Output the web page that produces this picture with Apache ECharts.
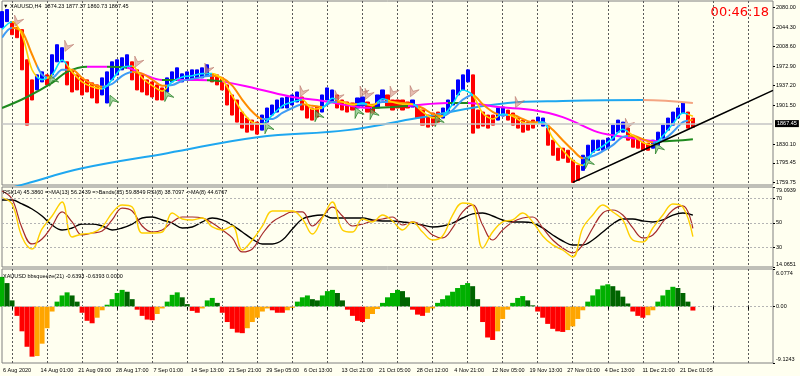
<!DOCTYPE html>
<html>
<head>
<meta charset="utf-8">
<title>XAUUSD,H4</title>
<script src="https://cdn.jsdelivr.net/npm/echarts@6/dist/echarts.min.js"></script>
<style>
html,body{margin:0;padding:0;background:#fffff0;}
#main{width:800px;height:376px;}
</style>
</head>
<body>
<div id="main"></div>
<script>
// 时间轴标签
const timeLabels = ['6 Aug 2020','14 Aug 01:00','21 Aug 09:00','28 Aug 17:00','7 Sep 01:00','14 Sep 13:00','21 Sep 21:00','29 Sep 05:00','6 Oct 13:00','13 Oct 21:00','21 Oct 05:00','28 Oct 12:00','4 Nov 21:00','12 Nov 05:00','19 Nov 13:00','27 Nov 01:00','4 Dec 13:00','11 Dec 21:00','21 Dec 01:05']

// 价格 高/低/方向 (1 = 上涨蓝色, -1 = 下跌红色)
const hi = [2072.6,2076.3,2054.2,2043.2,2039.5,1984.3,1947.5,1956.7,1962.2,1956.7,
1993.5,2011.9,2006.4,1980.6,1965.9,1956.7,1951.2,1947.5,1942.0,1938.3,
1951.2,1962.2,1980.6,1984.3,1988.0,1993.5,1980.6,1965.9,1956.7,1947.5,
1943.8,1938.3,1932.8,1951.2,1962.2,1969.6,1958.6,1962.2,1965.9,1965.9,
1969.6,1975.1,1958.6,1956.7,1951.2,1938.3,1919.9,1910.7,1888.6,1877.6,
1873.9,1870.2,1883.1,1896.0,1901.5,1910.7,1914.4,1916.2,1919.9,1925.4,
1916.2,1901.5,1896.0,1897.8,1919.9,1932.8,1929.1,1919.9,1910.7,1907.0,
1905.2,1914.4,1916.2,1907.0,1901.5,1919.9,1929.1,1919.9,1910.7,1910.7,
1910.7,1907.0,1910.7,1901.5,1892.3,1883.1,1886.8,1888.6,1896.0,1910.7,
1929.1,1947.5,1956.7,1965.9,1956.7,1892.3,1888.6,1883.1,1883.1,1896.0,
1897.8,1892.3,1886.8,1877.6,1873.9,1870.2,1873.9,1879.4,1877.6,1859.2,
1837.1,1822.4,1822.4,1818.7,1800.3,1791.1,1809.5,1827.9,1837.1,1837.1,
1837.1,1840.8,1864.7,1873.9,1870.2,1859.2,1846.3,1840.8,1833.4,1831.6,
1837.1,1851.8,1864.7,1877.6,1888.6,1896.0,1905.2,1888.6,1877.37]
const lo = [2043.2,2054.2,2030.3,2024.8,1965.9,1864.7,1910.7,1929.1,1943.8,1938.3,
1956.7,1980.6,1980.6,1938.3,1925.4,1929.1,1919.9,1925.4,1914.4,1905.2,
1919.9,1905.2,1947.5,1956.7,1965.9,1969.6,1947.5,1929.1,1925.4,1919.9,
1916.2,1910.7,1910.7,1925.4,1943.8,1947.5,1943.8,1947.5,1947.5,1951.2,
1951.2,1954.9,1943.8,1938.3,1929.1,1901.5,1883.1,1870.2,1859.2,1851.8,
1855.5,1848.2,1855.5,1870.2,1883.1,1888.6,1896.0,1896.0,1901.5,1907.0,
1892.3,1877.6,1873.9,1879.4,1888.6,1910.7,1907.0,1896.0,1892.3,1888.6,
1892.3,1896.0,1899.7,1888.6,1886.8,1896.0,1910.7,1899.7,1892.3,1896.0,
1892.3,1896.0,1897.8,1877.6,1864.7,1861.0,1864.7,1870.2,1877.6,1888.6,
1901.5,1919.9,1929.1,1943.8,1850.0,1859.2,1862.9,1859.2,1864.7,1873.9,
1881.3,1873.9,1864.7,1859.2,1851.8,1855.5,1859.2,1868.4,1862.9,1827.9,
1809.5,1800.3,1804.0,1796.6,1759.75,1763.5,1781.9,1800.3,1815.0,1818.7,
1818.7,1822.4,1837.1,1851.8,1851.8,1837.1,1824.2,1822.4,1818.7,1818.7,
1822.4,1827.9,1840.8,1855.5,1864.7,1877.6,1886.8,1859.2,1860.73]
const dir = [1,1,-1,-1,-1,-1,-1,1,1,-1,
1,1,1,-1,-1,-1,-1,-1,-1,-1,
1,1,1,1,1,1,-1,-1,-1,-1,
-1,-1,-1,1,1,1,1,1,1,1,
1,1,-1,-1,-1,-1,-1,-1,-1,-1,
-1,-1,1,1,1,1,1,1,1,1,
-1,-1,-1,-1,1,1,1,-1,-1,-1,
-1,1,1,-1,-1,1,1,-1,-1,-1,
-1,-1,1,-1,-1,-1,-1,-1,1,1,
1,1,1,1,-1,-1,-1,-1,-1,1,
1,-1,-1,-1,-1,-1,-1,1,1,-1,
-1,-1,-1,-1,-1,-1,1,1,1,1,
1,1,1,1,1,-1,-1,-1,-1,-1,
1,1,1,1,1,1,1,-1,-1]
const lastPrice = 1867.45

// 快/慢均线 (每 2 根取一点)
const fastMA = [2040,2054,2030,1966,1948,1957,1984,1962,1944,1935,1931,1948,1970,1973,1951,1937,1927,1944,1953,1955,1959,1959,1948,1918,1889,1870,1867,1883,1900,1907,1911,1894,1896,1914,1907,1902,1905,1900,1913,1907,1903,1903,1889,1878,1881,1903,1929,1920,1887,1876,1885,1881,1870,1867,1870,1841,1819,1800,1791,1815,1826,1841,1857,1846,1833,1828,1845,1867,1887,1881]
const slowMA = [2025,2043,2036,1994,1957,1951,1966,1966,1951,1940,1935,1940,1955,1962,1959,1948,1937,1938,1946,1949,1953,1955,1951,1937,1911,1889,1876,1876,1887,1896,1903,1900,1898,1907,1907,1903,1903,1902,1907,1907,1905,1903,1896,1885,1881,1892,1911,1920,1903,1889,1883,1883,1876,1870,1870,1856,1837,1819,1804,1808,1817,1828,1843,1845,1839,1833,1837,1852,1870,1874]

// 长周期均线 (绿/紫)
const lmaIdx = [0,5,10,13,17,21,25,28,32,35,39,43,51,58,63,71,74,81,89,93,99,106,112,119,122,126,131,138]
const lmaVal = [1896.0,1916.2,1942.0,1962.2,1971.4,1971.4,1969.6,1958.6,1947.5,1947.5,1947.5,1945.7,1931.0,1916.2,1910.7,1897.8,1896.0,1899.7,1905.2,1905.2,1897.8,1892.3,1879.4,1851.8,1846.3,1840.8,1835.3,1839.0]
const lmaGreenFrom = [0,21,32,41,74,89,131]
const lmaGreenTo = [17,25,35,44,81,93,139]

// 200 均线
const maIdx = [0,5,16,33,51,69,83,101,112,128,138]
const maVal = [1745.1,1758.0,1785.6,1813.2,1842.6,1855.5,1877.6,1905.2,1908.9,1910.7,1905.2]
const maTurn = 128

// 趋势线
const trendIdx = [114,128,142,154]
const trendVal = [1759.75,1818.7,1877.7,1928.2]

// 箭头信号
const sellIdx = [3,13,27,41,60,67,72,73,78,82,103,125]
const sellVal = [2054,2008,1979,1966,1925,1916,1924,1920,1924,1925,1905,1865]
const buyIdx = [10,22,33,53,63,71,74,87,117,131]
const buyVal = [1948,1911,1920,1861,1883,1889,1887,1874,1797,1824]

// RSI 面板 (每 2 根取一点)
const rsiYellow = [70.2,65.3,38.5,28.7,45.0,55.5,66.9,38.5,40.9,41.7,46.6,58.0,64.5,62.8,41.7,41.7,42.5,58.0,53.1,52.3,53.9,46.6,44.2,47.4,27.9,36.0,47.4,59.6,59.6,59.6,53.1,40.9,53.9,66.9,44.2,42.5,53.1,50.7,56.3,51.5,44.2,50.7,42.5,36.0,39.3,56.3,66.1,64.5,29.5,42.5,50.7,52.3,58.0,50.7,39.3,32.0,27.9,22.2,45.8,56.3,64.5,58.8,52.3,36.0,34.4,45.8,56.3,65.3,62.8,38.7]
const rsiRed = [75.9,69.3,45.8,32.8,36.8,47.4,58.8,50.7,40.1,41.7,43.3,52.3,62.0,59.6,47.4,42.5,44.2,50.7,54.7,54.7,53.9,49.8,44.2,37.7,26.3,28.7,40.9,50.7,55.5,58.8,58.8,47.4,54.7,62.8,55.5,47.4,49.0,51.5,53.1,54.7,48.2,50.7,47.4,40.1,37.7,45.8,58.8,64.5,48.2,36.0,44.2,50.7,53.9,54.7,45.8,36.0,29.5,25.5,32.0,45.8,58.0,60.4,56.3,45.8,37.7,40.1,50.7,60.4,63.7,45.4]
const rsiBlack = [68.5,68.5,65.3,61.2,55.5,48.2,44.2,45.8,49.0,49.0,47.4,44.2,45.8,49.0,53.9,54.7,52.3,49.8,45.8,46.6,50.7,53.9,52.3,48.2,42.5,36.8,32.8,32.8,36.0,45.0,53.1,55.5,56.3,53.9,53.9,53.9,53.9,52.3,51.5,51.5,50.7,49.8,48.2,46.6,47.4,49.8,53.9,57.2,58.0,55.5,52.3,50.7,50.7,49.8,45.8,40.1,35.2,32.0,32.0,36.0,42.5,49.0,53.1,53.1,51.5,50.7,52.3,56.3,58.0,56.2]
const rsiLevels = [70,50,30]

// bbsqueeze 柱
const sq = [4.8,3.8,1.0,-1.5,-4.0,-6.5,-8.1,-8.0,-6.0,-3.5,
-0.8,0.8,1.8,2.3,1.8,0.8,-1.0,-2.3,-2.7,-1.8,
-0.6,0.3,1.2,2.2,2.7,2.4,1.2,-0.5,-1.5,-2.1,
-2.2,-1.2,-0.3,0.8,1.9,2.3,1.5,0.4,-0.7,-1.0,
-0.3,1.0,1.4,0.6,-1.0,-2.5,-3.6,-4.2,-4.3,-3.5,
-2.5,-1.8,-0.8,-0.3,-0.6,-1.0,-1.0,-0.6,-0.2,0.8,
1.5,1.8,1.2,1.0,1.8,2.5,2.7,2.2,1.0,-0.5,
-1.5,-2.3,-2.5,-2.0,-1.2,-0.4,0.6,1.5,2.2,2.7,
2.5,1.5,-0.5,-1.3,-1.5,-1.0,-0.3,0.6,1.2,1.8,
2.4,3.0,3.5,3.8,3.3,1.2,-2.5,-5.0,-5.4,-4.0,
-2.0,-0.5,0.6,1.4,1.7,1.0,0.2,-0.8,-1.8,-2.8,
-3.6,-4.0,-4.1,-3.8,-3.2,-2.0,-0.6,0.8,1.8,2.8,
3.4,3.6,3.3,2.6,1.6,0.5,-0.8,-1.5,-1.8,-1.4,
-0.6,0.8,1.8,2.7,3.2,3.0,2.2,0.8,-0.64]

// 右侧刻度
const priceTicks = [2080, 2044.3, 2008.6, 1972.9, 1937.2, 1901.5, 1830.1, 1795.45, 1759.75]
const rsiTicks = [79.0939, 70, 50, 30, 14.0651]
const sqTicks = [6.0774, 0, -9.1243]

const nCat = 155
const cats = Array.from({length: nCat}, (_, i) => String(i))
const font = 'Liberation Sans'
const isGrid = i => (i - 2) % 7 === 0

function pairs(idx, val){
    return idx.map((x, i) => [x, val[i]])
}
function evenPairs(val){
    return val.map((v, i) => [i * 2, v])
}

// 按方向分段着色 (分段都是有限区间)
function dirPieces(upColor, dnColor){
    let pieces = []
    let start = 0
    for(let i = 1; i <= dir.length; i++){
        if(i === dir.length || dir[i] !== dir[start]){
            pieces.push({gte: start, lt: i === dir.length ? nCat : i, color: dir[start] > 0 ? upColor : dnColor})
            start = i
        }
    }
    return pieces
}

let lmaPieces = []
let cur = 0
lmaGreenFrom.forEach((f, i) => {
    if(f > cur) lmaPieces.push({gte: cur, lt: f, color: '#ff00ff'})
    lmaPieces.push({gte: f, lt: lmaGreenTo[i], color: '#1f8a1f'})
    cur = lmaGreenTo[i]
})
if(cur < nCat) lmaPieces.push({gte: cur, lt: nCat, color: '#ff00ff'})

const candles = hi.map((h, i) => dir[i] > 0 ? [lo[i], h, lo[i], h] : [h, lo[i], lo[i], h])

const sqBars = sq.map((v, i) => {
    let prev = i > 0 ? sq[i - 1] : v
    let color
    if(v >= 0){
        color = v >= prev ? '#00b000' : '#006400'
    }else{
        color = v <= prev ? '#ff0000' : '#ffa500'
    }
    return {value: v, itemStyle: {color: color}}
})

function xCat(gridIndex, ticks){
    return {
        type: 'category', gridIndex: gridIndex, data: cats, boundaryGap: false,
        axisLine: {show: false},
        axisLabel: {show: false},
        axisTick: {show: ticks, interval: isGrid, length: 3, lineStyle: {color: '#000'}},
        splitLine: {show: true, interval: isGrid, lineStyle: {color: '#5a5a5a', type: [2, 2], width: 1}}
    }
}

function yVal(gridIndex, min, max, ticks, fmt){
    return {
        type: 'value', gridIndex: gridIndex, position: 'right', min: min, max: max,
        axisLine: {show: false},
        splitLine: {show: false},
        axisTick: {show: true, customValues: ticks, length: 2, lineStyle: {color: '#000'}},
        axisLabel: {
            customValues: ticks, formatter: fmt, fontSize: 5.5, color: '#000', fontFamily: font, margin: 3,
            rich: {
                t6: {fontSize: 5.5, fontFamily: font, color: '#000', padding: [6, 0, 0, 0]},
                b6: {fontSize: 5.5, fontFamily: font, color: '#000', padding: [0, 0, 6, 0]},
                t8: {fontSize: 5.5, fontFamily: font, color: '#000', padding: [8, 0, 0, 0]},
                b8: {fontSize: 5.5, fontFamily: font, color: '#000', padding: [0, 0, 8, 0]}
            }
        }
    }
}

const textStyle = {fontSize: 5.5, fontWeight: 'normal', color: '#000', fontFamily: font}
const gridBox = {show: true, borderColor: '#808080', borderWidth: 1, left: 2, right: 27}

var mychart = echarts.init(document.getElementById('main'))
mychart.setOption({
    animation: false,
    backgroundColor: '#fffff0',
    title: [
        {text: '▼ XAUUSD,H4  1874.23 1877.37 1860.73 1867.45', left: 3, top: 3, padding: 0, textStyle: textStyle},
        {text: 'RSI(14) 45.3860 =>MA(13) 56.2439 =>Bands(35) 59.8849 RSI(8) 38.7097 ->MA(8) 44.6767', left: 3, top: 189, padding: 0, textStyle: textStyle},
        {text: 'XAUUSD bbsqueeze(21) -0.6393 -0.6393 0.0000', left: 3, top: 273, padding: 0, textStyle: textStyle},
        {text: '00:46:18', right: 31, top: 6, padding: 0, textStyle: {fontSize: 13, fontWeight: 'normal', color: '#ff0000', fontFamily: 'DejaVu Sans'}}
    ],
    grid: [
        {...gridBox, top: 1, height: 184},
        {...gridBox, top: 187, height: 80},
        {...gridBox, top: 269, height: 94},
        {show: false, left: 3, width: 677, top: 363, height: 1}
    ],
    xAxis: [
        xCat(0, false),
        xCat(1, false),
        xCat(2, true),
        {
            type: 'category', gridIndex: 3, data: timeLabels, boundaryGap: false,
            axisLine: {show: false}, axisTick: {show: false}, splitLine: {show: false},
            axisLabel: {show: true, interval: 0, align: 'left', fontSize: 5.5, color: '#000', fontFamily: font, margin: 3}
        }
    ],
    yAxis: [
        yVal(0, 1755, 2092, priceTicks, v => v.toFixed(2)),
        yVal(1, 14.0651, 79.0939, rsiTicks, v => v === 79.0939 ? '{t6|79.0939}' : v === 14.0651 ? '{b6|14.0651}' : String(v)),
        yVal(2, -9.1243, 6.0774, sqTicks, v => v === 6.0774 ? '{t8|6.0774}' : v === -9.1243 ? '{b8|-9.1243}' : '0.00'),
        {type: 'value', gridIndex: 3, show: false}
    ],
    visualMap: [
        {type: 'piecewise', show: false, seriesIndex: 1, dimension: 0, pieces: [{gte: 0, lt: maTurn, color: '#1ea7f0'}, {gte: maTurn, lt: nCat, color: '#f4a582'}]},
        {type: 'piecewise', show: false, seriesIndex: 2, dimension: 0, pieces: lmaPieces},
        {type: 'piecewise', show: false, seriesIndex: 3, dimension: 0, pieces: dirPieces('#3f9cf5', '#ff8c00')},
        {type: 'piecewise', show: false, seriesIndex: 4, dimension: 0, pieces: dirPieces('#00e0ff', '#ffd000')}
    ],
    series: [
        {
            name: 'price', type: 'candlestick', xAxisIndex: 0, yAxisIndex: 0, data: candles, barWidth: 3.6,
            itemStyle: {color: '#0000ff', color0: '#ff0000', borderColor: '#0000ff', borderColor0: '#ff0000', borderWidth: 1}
        },
        {
            name: 'ma200', type: 'line', xAxisIndex: 0, yAxisIndex: 0, data: pairs(maIdx, maVal), smooth: 0.4,
            symbol: 'none', lineStyle: {width: 2},
            markLine: {
                silent: true, symbol: 'none',
                lineStyle: {color: '#c4c4c4', width: 1.5, type: 'solid'},
                label: {position: 'end', formatter: () => lastPrice.toFixed(2), backgroundColor: '#000', color: '#fff', fontSize: 5.5, fontFamily: font, padding: [1, 2, 0, 2], distance: 2},
                data: [{yAxis: lastPrice}]
            }
        },
        {name: 'lma', type: 'line', xAxisIndex: 0, yAxisIndex: 0, data: pairs(lmaIdx, lmaVal), smooth: 0.4, symbol: 'none', lineStyle: {width: 2}},
        {name: 'slow', type: 'line', xAxisIndex: 0, yAxisIndex: 0, data: evenPairs(slowMA), smooth: 0.3, symbol: 'none', lineStyle: {width: 2}},
        {name: 'fast', type: 'line', xAxisIndex: 0, yAxisIndex: 0, data: evenPairs(fastMA), smooth: 0.3, symbol: 'none', lineStyle: {width: 1.6}},
        {
            name: 'trend', type: 'line', xAxisIndex: 0, yAxisIndex: 0,
            data: pairs(trendIdx, trendVal).map((p, i) => ({value: p, symbol: i < 3 ? 'circle' : 'none'})),
            symbolSize: 4, itemStyle: {color: '#fff', borderColor: '#000', borderWidth: 1},
            lineStyle: {color: '#000', width: 1.5}, z: 5
        },
        {
            name: 'sell', type: 'scatter', xAxisIndex: 0, yAxisIndex: 0, data: pairs(sellIdx, sellVal),
            symbol: 'path://M0,0 L5,4 L10,0 L5,10 Z', symbolSize: [10, 10], symbolRotate: -25,
            itemStyle: {color: 'rgba(215,150,140,0.8)', borderColor: '#b06a60', borderWidth: 0.6}, z: 4
        },
        {
            name: 'buy', type: 'scatter', xAxisIndex: 0, yAxisIndex: 0, data: pairs(buyIdx, buyVal),
            symbol: 'path://M5,0 L10,10 L5,6 L0,10 Z', symbolSize: [10, 10], symbolRotate: 25,
            itemStyle: {color: 'rgba(120,190,120,0.85)', borderColor: '#1f7a1f', borderWidth: 0.8}, z: 4
        },
        {
            name: 'rsiBlack', type: 'line', xAxisIndex: 1, yAxisIndex: 1, data: evenPairs(rsiBlack), smooth: 0.4,
            symbol: 'none', lineStyle: {color: '#000', width: 1.4},
            markLine: {
                silent: true, symbol: 'none', label: {show: false},
                lineStyle: {color: '#b4b4b4', width: 1, type: [2, 2]},
                data: rsiLevels.map(v => ({yAxis: v}))
            }
        },
        {name: 'rsiRed', type: 'line', xAxisIndex: 1, yAxisIndex: 1, data: evenPairs(rsiRed), smooth: 0.4, symbol: 'none', lineStyle: {color: '#a52a2a', width: 1.2}},
        {name: 'rsiYellow', type: 'line', xAxisIndex: 1, yAxisIndex: 1, data: evenPairs(rsiYellow), smooth: 0.4, symbol: 'none', lineStyle: {color: '#ffd000', width: 1.4}},
        {
            name: 'squeeze', type: 'bar', xAxisIndex: 2, yAxisIndex: 2, data: sqBars, barWidth: 5,
            markLine: {
                silent: true, symbol: 'none', label: {show: false},
                lineStyle: {color: '#b4b4b4', width: 1, type: [2, 2]},
                data: [{yAxis: 0}]
            }
        }
    ]
})
</script>
</body>
</html>
